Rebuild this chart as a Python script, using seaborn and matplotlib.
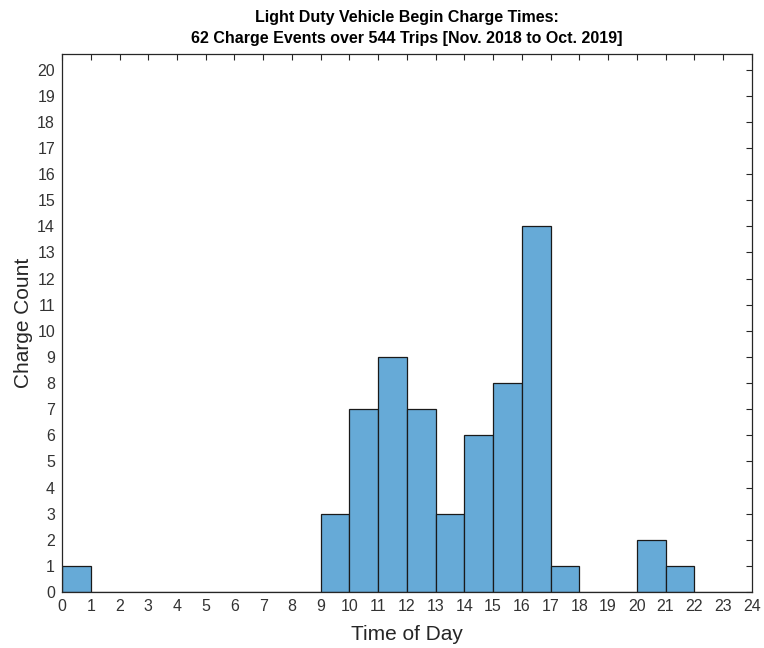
import matplotlib
matplotlib.use("Agg")
import matplotlib.pyplot as plt
import seaborn as sns
import pandas as pd

hours = list(range(24))
counts = [1, 0, 0, 0, 0, 0, 0, 0, 0, 3, 7, 9, 7, 3, 6, 8, 14, 1, 0, 0, 2, 1, 0, 0]
title_lines = ["Light Duty Vehicle Begin Charge Times:",
               "62 Charge Events over 544 Trips [Nov. 2018 to Oct. 2019]"]
x_label = "Time of Day"
y_label = "Charge Count"

sns.set_theme(style="white")
plt.rcParams['font.family'] = ['Liberation Sans', 'DejaVu Sans']

df = pd.DataFrame({"hour": [h + 0.5 for h in hours], "count": counts})

fig = plt.figure(figsize=(7.64, 6.48), dpi=100)
ax = fig.add_axes([0.0812, 0.0864, 0.9028, 0.8303])

sns.histplot(data=df, x="hour", weights="count", bins=list(range(25)),
             color="#66AAD7", alpha=1.0, edgecolor="#1a1a1a", linewidth=0.9, ax=ax)

ax.set_xlim(0, 24)
ax.set_ylim(0, 20.6)
ax.set_xticks(range(25))
ax.set_yticks(range(21))
ax.tick_params(direction="in", length=4, width=0.8, colors="#262626",
               labelsize=11.5, top=True, right=True, labelcolor="#333333", pad=5)
for s in ax.spines.values():
    s.set_color("#262626")
    s.set_linewidth(0.9)
ax.set_xlabel(x_label, fontsize=15, color="#262626", labelpad=8)
ax.set_ylabel(y_label, fontsize=15, color="#262626", labelpad=3)
ax.set_title("\n".join(title_lines), fontsize=11.5, fontweight="bold", color="black",
             pad=8, linespacing=1.5)

fig.savefig("out.png", dpi=100)
